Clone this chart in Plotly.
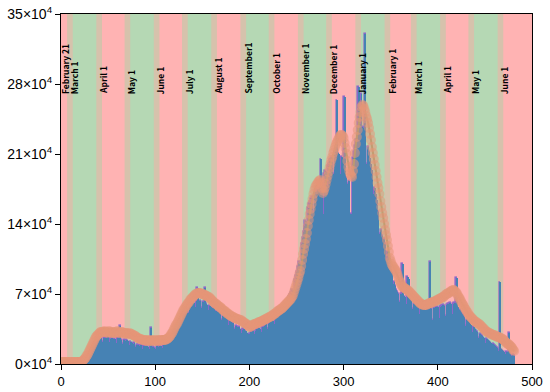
import plotly.graph_objects as go

# ---------------- data (values in thousands of cases) ----------------
days_bar = list(range(0, 482))
daily_cases = [
    0,0,0,0,0,0,0,
    0,0,0,0,0,0,0,
    0,0,0,0,0,0,0,
    0,0,0,0,1,1,1,
    2,3,5,8,11,15,18,
    20,21,20,19,24,25,26,
    25,26,22,21,26,25,26,
    25,34,22,21,25,26,25,
    24,25,21,20,26,25,26,
    38,24,20,19,24,23,22,
    24,23,19,18,22,21,20,
    20,21,17,16,19,19,18,
    18,19,15,15,18,18,17,
    18,17,14,15,18,36,17,
    17,16,14,15,18,17,16,
    18,18,15,16,19,20,20,
    21,22,20,21,25,27,29,
    30,32,30,32,38,39,41,
    43,44,40,42,49,50,52,
    53,55,50,51,57,58,59,
    60,61,56,57,63,76,63,
    62,63,56,55,62,61,76,
    60,59,54,53,58,57,56,
    55,56,48,47,53,52,51,
    52,50,44,43,48,47,46,
    47,45,39,38,43,42,41,
    40,41,35,34,38,37,36,
    37,35,31,30,34,35,32,
    33,31,28,27,30,26,32,
    32,33,30,30,33,35,34,
    36,35,31,32,37,36,38,
    38,40,35,35,40,42,43,
    44,43,39,40,46,47,48,
    49,50,45,46,53,55,57,
    58,60,55,57,65,67,69,
    71,74,70,72,84,88,92,
    97,102,96,100,120,126,132,
    138,143,135,141,156,160,162,
    165,167,150,152,170,172,173,
    175,176,160,205,182,134,150,
    190,193,170,178,198,200,204,
    205,207,185,190,210,215,264,
    211,210,190,185,207,205,200,
    267,189,186,172,180,183,144,
    150,117,200,206,212,218,224,
    160,277,240,236,270,237,236,
    234,330,200,195,217,212,206,
    200,194,170,165,176,170,164,
    158,152,130,120,134,128,122,
    125,120,105,100,112,108,104,
    98,92,80,78,82,78,74,
    72,70,62,60,70,69,100,
    68,67,60,60,87,85,66,
    62,63,55,54,60,59,58,
    58,57,50,48,56,55,55,
    55,54,45,44,55,55,56,
    102,55,42,44,56,56,57,
    56,57,46,45,57,58,58,
    59,58,47,48,59,60,60,
    61,60,50,49,60,61,59,
    86,57,45,44,54,52,50,
    49,47,38,37,45,43,42,
    40,39,32,31,37,35,34,
    33,32,26,25,30,29,28,
    27,26,21,20,25,24,23,
    22,21,17,16,20,19,18,
    17,16,13,13,82,15,14,
    13,12,10,9,12,11,11,
    31,10,8,7,9,8,
]

days_line = list(range(0, 482))
smoothed_cases = [
    2,2,2,2,2,2,2,2,2,2,
    2,2,2,2,2,2,2,2,2,2,
    2,2,2,3,4,5,6,8,9,11,
    13,15,17,19,21,23,25,27,28,29,
    30,31,32,32,32,32,33,32,32,31,
    32,33,32,31,31,32,32,31,31,32,
    33,32,31,31,32,32,31,31,30,31,
    31,30,30,31,30,30,29,29,28,28,
    27,26,26,25,25,25,24,24,24,24,
    23,23,24,24,23,23,23,24,24,23,
    23,23,24,24,23,23,24,24,24,24,
    24,24,25,25,26,27,28,30,31,33,
    35,37,39,40,42,44,46,48,50,52,
    54,55,57,58,60,61,62,64,65,66,
    67,68,69,70,70,71,71,71,71,70,
    70,70,69,69,68,68,67,67,66,65,
    64,63,62,61,60,60,59,58,57,57,
    56,55,54,53,53,52,51,50,50,49,
    48,48,47,47,46,46,45,45,45,44,
    44,44,43,42,42,41,40,40,39,38,
    37,37,38,39,39,40,40,40,41,41,
    42,42,42,43,43,44,44,45,45,46,
    46,47,47,48,48,49,50,50,51,52,
    53,53,54,55,55,56,57,58,59,60,
    61,62,63,64,65,67,68,71,74,77,
    80,83,86,90,93,98,104,110,115,120,
    125,131,138,144,150,155,160,165,170,174,
    177,179,180,182,183,184,181,176,171,173,
    176,180,184,188,192,196,200,204,207,211,
    214,217,220,222,224,226,228,229,229,228,
    226,221,216,210,203,197,193,190,188,187,
    193,200,211,220,227,234,241,247,252,257,
    259,258,255,252,248,245,241,236,230,224,
    217,211,205,199,193,187,181,176,170,163,
    157,151,146,140,134,129,124,118,112,106,
    103,100,98,97,95,94,92,90,87,84,
    82,80,78,77,76,76,75,74,74,73,
    72,71,70,69,68,67,66,65,64,63,
    62,61,60,60,59,59,59,59,59,60,
    60,61,61,61,62,62,62,63,63,64,
    64,65,65,66,66,67,67,68,69,70,
    70,71,71,72,73,73,74,74,73,72,
    71,69,67,66,64,62,60,59,57,55,
    54,52,51,49,48,47,46,45,44,43,
    42,42,41,40,40,39,38,37,36,35,
    34,33,32,32,31,31,30,30,29,29,
    29,28,28,27,27,27,26,26,25,25,
    24,23,22,21,20,20,19,18,17,16,
    14,13,
]

month_starts = [0, 9, 40, 70, 101, 131, 162, 193, 223, 254, 284, 315, 346, 374, 405, 435, 466]
month_labels = ["February 21", "March 1", "April 1", "May 1", "June 1", "July 1",
                "August 1", "September1", "October 1", "November 1", "December 1",
                "January 1", "February 1", "March 1", "April 1", "May 1", "June 1"]
x_end = 500

y_tick_vals = [0, 70, 140, 210, 280, 350]
y_tick_text = ["0×10<sup>4</sup>", "7×10<sup>4</sup>", "14×10<sup>4</sup>",
               "21×10<sup>4</sup>", "28×10<sup>4</sup>", "35×10<sup>4</sup>"]
x_tick_vals = [0, 100, 200, 300, 400, 500]

# ---------------- styles ----------------
RED = "#FFB3B3"
GREEN = "#B5D8B4"
TAN = "#D6C2AC"
BLUE = "#4682B4"
PURPLE = "#8B68C8"

fig = go.Figure()

fig.add_trace(go.Bar(x=days_bar, y=daily_cases, width=1.0,
                     marker=dict(color=PURPLE, line=dict(color=PURPLE, width=1.6)),
                     showlegend=False, hoverinfo="skip"))
fig.add_trace(go.Bar(x=days_bar, y=daily_cases, width=1.0,
                     marker=dict(color=BLUE, line=dict(width=0)),
                     showlegend=False))
fig.add_trace(go.Scatter(x=days_line, y=smoothed_cases, mode="lines+markers",
                         line=dict(color="rgba(150,160,95,0.9)", width=2),
                         marker=dict(size=10, color="rgba(230,150,120,0.55)", line=dict(width=0)),
                         showlegend=False))

shapes = []
bounds = month_starts + [x_end]
for i in range(len(month_starts)):
    shapes.append(dict(type="rect", xref="x", yref="paper", x0=bounds[i], x1=bounds[i + 1],
                       y0=0, y1=1, fillcolor=RED if i % 2 == 0 else GREEN,
                       line=dict(width=0), layer="below"))
for b in month_starts[1:]:
    shapes.append(dict(type="rect", xref="x", yref="paper", x0=b - 2.5, x1=b + 3.5,
                       y0=0, y1=1, fillcolor=TAN, line=dict(width=0), layer="below"))

annotations = []
for s, lab in zip(month_starts, month_labels):
    off = 4.5 if s > 0 else 4.2
    annotations.append(dict(x=s + off, y=268, xref="x", yref="y", text=lab,
                            textangle=-90, showarrow=False, xanchor="center", yanchor="bottom",
                            font=dict(family="Noto Sans CJK SC", size=8.5, color="black",
                                      weight="bold")))

fig.update_layout(
    width=550, height=392,
    margin=dict(l=61, r=18, t=14, b=28, autoexpand=False),
    paper_bgcolor="white", plot_bgcolor="white",
    barmode="overlay", bargap=0,
    shapes=shapes, annotations=annotations,
    font=dict(family="Liberation Sans, Arial", size=13, color="black"),
    xaxis=dict(range=[0, x_end], tickvals=x_tick_vals, ticks="outside", ticklen=5,
               tickcolor="black", showline=True, linecolor="black", linewidth=1.2,
               mirror=True, showgrid=False, zeroline=False, automargin=False,
               tickfont=dict(size=13, color="black")),
    yaxis=dict(range=[0, 350], tickvals=y_tick_vals, ticktext=y_tick_text, ticks="outside",
               ticklen=5, tickcolor="black", showline=True, linecolor="black", linewidth=1.2,
               mirror=True, showgrid=False, zeroline=False, automargin=False,
               tickfont=dict(size=14, color="black")),
)

# remove the browser's default 8px body margin so the 550x392 figure fills the window
fig.write_html("out.html", config={"displayModeBar": False},
               post_script="document.body.style.margin='0';")
